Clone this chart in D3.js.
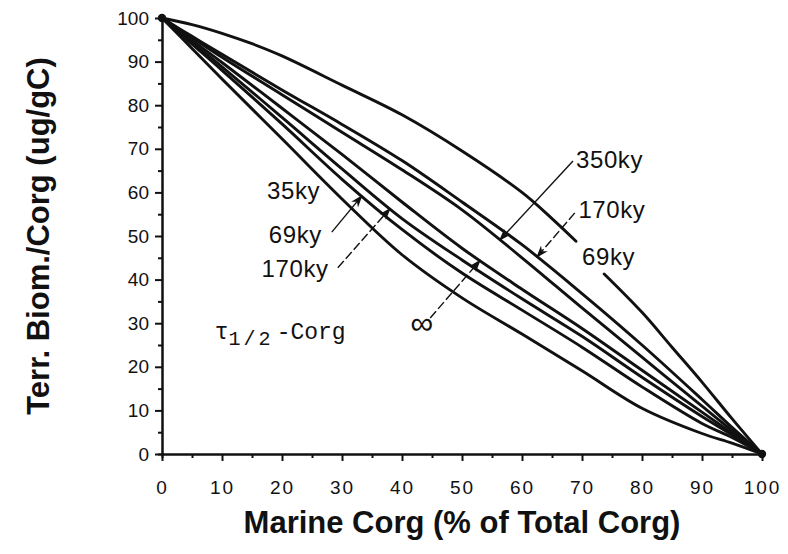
<!DOCTYPE html>
<html>
<head>
<meta charset="utf-8">
<script src="https://cdn.jsdelivr.net/npm/d3@7"></script>
<style>
  html, body { margin: 0; padding: 0; background: #fff; }
  svg { display: block; }
</style>
</head>
<body>
<svg id="chart" width="788" height="554"></svg>
<script>
// Marine Corg share (% of total Corg) at which each curve is sampled
const marine = [0, 5, 10, 20, 30, 40, 50, 60, 70, 80, 90, 95, 100];

// Terrestrial biomarker / Corg (ug/gC) for each half-life scenario
const up170ky = [100, 95.8, 91.7, 83.5, 75.6, 67.3, 57.8, 48.0, 36.8, 25.0, 12.5, 6.1, 0];
const up350ky = [100, 95.5, 91.0, 82.4, 73.8, 65.2, 56.0, 45.0, 33.5, 22.2, 11.0, 5.4, 0];
const infinite = [100, 94.9, 89.8, 79.3, 68.7, 57.8, 47.2, 37.8, 28.8, 19.2, 9.6, 4.8, 0];
const low170ky = [100, 94.4, 88.8, 77.2, 65.4, 54.0, 44.5, 35.6, 27.0, 17.6, 8.6, 4.4, 0];
const low69ky = [100, 94.0, 88.0, 75.7, 63.0, 51.5, 41.5, 33.0, 24.5, 15.4, 7.0, 3.8, 0];
const low35ky = [100, 93.0, 86.0, 72.3, 58.5, 45.7, 35.8, 27.5, 19.1, 10.5, 4.7, 2.5, 0];

// The upper 69ky curve is sampled separately; null marks the break around its label
const up69kyX = [0, 5, 10, 15, 20, 30, 40, 50, 60, 65, 69, 71, 73.7, 80, 85, 90, 95, 100];
const up69ky = [100, 98.5, 96.5, 94.1, 91.3, 84.6, 77.8, 69.5, 60.0, 54.0, 48.8, null, 41.3, 32.5, 24.5, 16.5, 8.1, 0];

// Axis ticks
const xTicks = [0, 10, 20, 30, 40, 50, 60, 70, 80, 90, 100];
const yTicks = [0, 10, 20, 30, 40, 50, 60, 70, 80, 90, 100];
const minorTicks = [5, 15, 25, 35, 45, 55, 65, 75, 85, 95];

const svg = d3.select("#chart");
const x = d3.scaleLinear().domain([0, 100]).range([162, 762]);
const y = d3.scaleLinear().domain([0, 100]).range([454, 18]);

const ink = "#111";
const sans = "'Liberation Sans', Arial, Helvetica, sans-serif";

// ---- curves ----
const line = d3.line()
  .defined(d => d[1] !== null)
  .x(d => x(d[0]))
  .y(d => y(d[1]))
  .curve(d3.curveCatmullRom.alpha(0.5));

const seriesList = [up170ky, up350ky, infinite, low170ky, low69ky, low35ky];
const g = svg.append("g");
seriesList.forEach(s => {
  g.append("path")
    .datum(marine.map((m, i) => [m, s[i]]))
    .attr("d", line)
    .attr("fill", "none")
    .attr("stroke", ink)
    .attr("stroke-width", 2.9)
    .attr("stroke-linecap", "round")
    .attr("stroke-linejoin", "round");
});
g.append("path")
  .datum(up69kyX.map((m, i) => [m, up69ky[i]]))
  .attr("d", line)
  .attr("fill", "none")
  .attr("stroke", ink)
  .attr("stroke-width", 2.9)
  .attr("stroke-linecap", "round");

// end-member blobs where all curves meet
[[0, 100], [100, 0]].forEach(p => {
  svg.append("circle")
    .attr("cx", x(p[0])).attr("cy", y(p[1])).attr("r", 4.2)
    .attr("fill", ink);
});

// ---- axes ----
const yAxis = svg.append("g").attr("transform", `translate(${x(0)},0)`);
yAxis.call(d3.axisLeft(y).tickValues(yTicks).tickSize(7).tickSizeOuter(0).tickPadding(6));
yAxis.append("g").call(d3.axisLeft(y).tickValues(minorTicks).tickSize(4).tickFormat(""));
yAxis.selectAll(".domain").attr("stroke", ink).attr("stroke-width", 2);
yAxis.selectAll(".tick line").attr("stroke", ink).attr("stroke-width", 2);
yAxis.selectAll(".tick text")
  .attr("font-family", sans).attr("font-size", 19).attr("fill", ink);

const xAxis = svg.append("g").attr("transform", `translate(0,${y(0)})`);
xAxis.call(d3.axisBottom(x).tickValues(xTicks).tickSize(7).tickSizeOuter(0).tickPadding(20));
xAxis.append("g").call(d3.axisBottom(x).tickValues(minorTicks).tickSize(4).tickFormat(""));
xAxis.selectAll(".domain").attr("stroke", ink).attr("stroke-width", 2);
xAxis.selectAll(".tick line").attr("stroke", ink).attr("stroke-width", 2);
xAxis.selectAll(".tick text")
  .attr("font-family", sans).attr("font-size", 19).attr("fill", ink)
  .attr("letter-spacing", "2px");

// ---- axis titles ----
svg.append("text")
  .attr("x", 462).attr("y", 533)
  .attr("text-anchor", "middle")
  .attr("font-family", sans).attr("font-weight", "bold").attr("font-size", 31)
  .attr("fill", ink)
  .text("Marine Corg (% of Total Corg)");

svg.append("text")
  .attr("transform", "translate(49,236) rotate(-90)")
  .attr("text-anchor", "middle")
  .attr("font-family", sans).attr("font-weight", "bold").attr("font-size", 31)
  .attr("fill", ink)
  .text("Terr. Biom./Corg (ug/gC)");

// ---- curve annotations ----
function valueAt(series, m) {
  return d3.scaleLinear().domain(marine).range(series)(m);
}

svg.append("defs").append("marker")
  .attr("id", "tip")
  .attr("viewBox", "0 0 10 10")
  .attr("refX", 9).attr("refY", 5)
  .attr("markerWidth", 9).attr("markerHeight", 9)
  .attr("orient", "auto")
  .append("path")
  .attr("d", "M0,1.5 L10,5 L0,8.5 L3,5 Z")
  .attr("fill", ink);

const labels = [
  { text: "350ky", at: [69.0, 65.5], from: [68.5, 67.2], series: up350ky, to: 56.3, dashed: false },
  { text: "170ky", at: [69.4, 54.2], from: [68.8, 55.3], series: up170ky, to: 62.5, dashed: true },
  { text: "69ky",  at: [70.0, 43.3] },
  { text: "35ky",  at: [17.5, 58.5] },
  { text: "69ky",  at: [17.8, 48.5], from: [28.3, 50.9], series: low69ky, to: 33.3, dashed: false },
  { text: "170ky", at: [16.6, 40.6], from: [29.3, 42.7], series: low170ky, to: 38.0, dashed: true },
  { text: "∞",     at: [41.4, 27.5], from: [44.7, 31.2], series: infinite, to: 53.0, dashed: true, big: true }
];

labels.forEach(l => {
  svg.append("text")
    .attr("x", x(l.at[0])).attr("y", y(l.at[1]))
    .attr("font-family", sans)
    .attr("font-size", l.big ? 32 : 24)
    .attr("letter-spacing", l.big ? null : "0.6px")
    .attr("fill", ink)
    .text(l.text);
  if (l.series) {
    svg.append("line")
      .attr("x1", x(l.from[0])).attr("y1", y(l.from[1]))
      .attr("x2", x(l.to)).attr("y2", y(valueAt(l.series, l.to)))
      .attr("stroke", ink).attr("stroke-width", 1.4)
      .attr("stroke-dasharray", l.dashed ? "9,3" : null)
      .attr("marker-end", "url(#tip)");
  }
});

// half-life legend label
const tau = svg.append("text")
  .attr("x", x(8.8)).attr("y", y(26.4))
  .attr("font-family", "'Liberation Mono', 'DejaVu Sans Mono', monospace")
  .attr("font-size", 23).attr("fill", ink);
tau.append("tspan").text("τ");
tau.append("tspan").attr("font-size", 20).attr("dy", 6).attr("letter-spacing", "3px").text("1/2");
tau.append("tspan").attr("dy", -6).attr("dx", 3).text("-Corg");
</script>
</body>
</html>
